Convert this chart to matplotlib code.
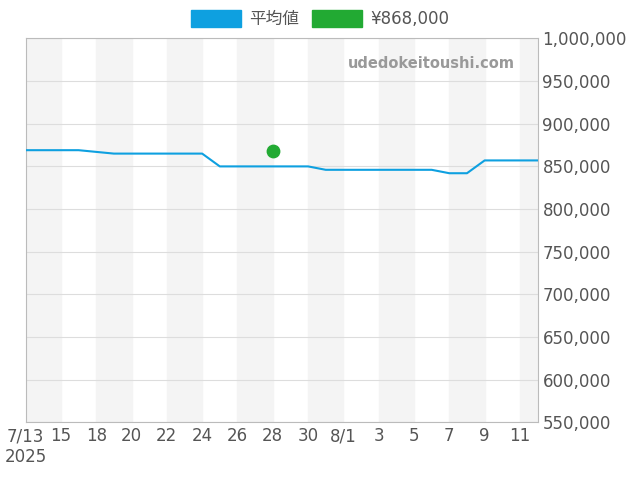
import matplotlib.pyplot as plt
from matplotlib.patches import Patch
from matplotlib.ticker import FuncFormatter

plt.rcParams['font.family'] = ['DejaVu Sans', 'Noto Sans CJK JP']

days = list(range(30))
avg = [869000, 869000, 869000, 869000, 867000, 865000, 865000, 865000, 865000, 865000,
       865000, 850000, 850000, 850000, 850000, 850000, 850000, 846000, 846000, 846000,
       846000, 846000, 846000, 846000, 842000, 842000, 857000, 857000, 857000, 857000]
point_day = 14
point_val = 868000
tick_pos = list(range(0, 29, 2))
tick_labels = ['7/13\n2025', '15', '18', '20', '22', '24', '26', '28', '30', '8/1',
               '3', '5', '7', '9', '11']

fig, ax = plt.subplots(figsize=(6.4, 4.8), dpi=100)
fig.subplots_adjust(left=0.04, right=0.84, top=0.92, bottom=0.12)

for s in range(0, 30, 4):
    ax.axvspan(s, min(s + 2, 29), color='#f4f4f4', zorder=0)
ax.plot(days, avg, color='#0ea0e0', lw=1.5, zorder=3)
ax.scatter([point_day], [point_val], color='#22aa33', s=80, zorder=4)

ax.set_xlim(0, 29)
ax.set_ylim(550000, 1000000)
ax.set_yticks(range(550000, 1000001, 50000))
ax.yaxis.tick_right()
ax.yaxis.set_major_formatter(FuncFormatter(lambda v, p: f'{int(v):,}'))
ax.set_xticks(tick_pos)
ax.set_xticklabels(tick_labels)
ax.grid(axis='y', color='#dddddd', lw=0.8)
ax.tick_params(labelsize=12, colors='#555555', length=0)
for sp in ax.spines.values():
    sp.set_color('#bbbbbb')

ax.text(0.955, 0.935, 'udedokeitoushi.com', transform=ax.transAxes, ha='right',
        va='center', fontsize=10.5, color='#999999', fontweight='bold')

handles = [Patch(color='#0ea0e0', label='平均値'), Patch(color='#22aa33', label='¥868,000')]
fig.legend(handles=handles, loc='upper center', bbox_to_anchor=(0.5, 1.01), ncol=2,
           frameon=False, fontsize=12, handlelength=3, handleheight=1.2,
           handletextpad=0.5, columnspacing=0.8, labelcolor='#555555')

fig.savefig('out.png')
